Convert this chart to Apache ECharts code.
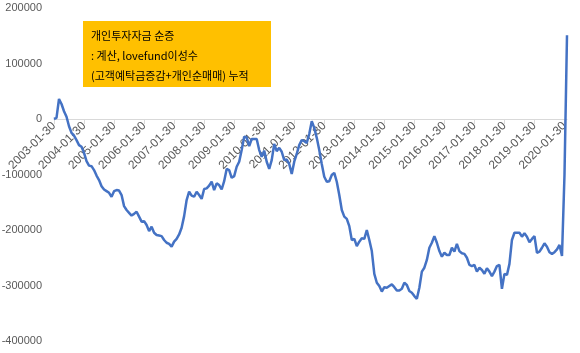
<!DOCTYPE html>
<html>
<head>
<meta charset="utf-8">
<script src="https://cdn.jsdelivr.net/npm/echarts@6/dist/echarts.min.js"></script>
<style>
  html, body { margin: 0; padding: 0; background: #fff; }
  #chart-container { width: 580px; height: 353px; }
</style>
</head>
<body>
<div id="chart-container"></div>
<script>
// monthly points, 2003-01 .. 2020-02
const firstYear = 2003;
const pointCount = 206;
const categories = [];
for (let i = 0; i < pointCount; i++) {
    const y = firstYear + Math.floor(i / 12);
    const m = String(i % 12 + 1).padStart(2, '0');
    categories.push(y + '-' + m + '-30');
}

// 개인투자자금 순증 (thousands)
const netFlowK = [
    0, 2, 36, 27, 14, 4, -13, -25, -30, -38, -47, -50,
    -61, -76, -84, -85, -92, -102, -110, -121, -127, -130, -133, -140,
    -130, -128, -129, -137, -157, -164, -169, -174, -171, -167, -176, -185,
    -184, -191, -202, -194, -205, -209, -210, -211, -218, -223, -225, -230,
    -221, -216, -208, -196, -175, -146, -131, -138, -140, -131, -137, -144,
    -126, -125, -120, -113, -128, -116, -119, -127, -112, -90, -92, -106,
    -103, -86, -77, -56, -32, -33, -49, -36, -36, -36, -56, -68,
    -57, -77, -90, -74, -45, -58, -52, -59, -74, -73, -81, -99,
    -77, -63, -47, -38, -40, -43, -27, -4, -16, -34, -56, -81,
    -104, -113, -112, -101, -97, -113, -137, -164, -176, -180, -193, -218,
    -216, -229, -221, -215, -216, -200, -218, -238, -279, -295, -301, -311,
    -303, -304, -301, -298, -303, -309, -309, -306, -295, -299, -310, -313,
    -319, -324, -304, -275, -268, -254, -232, -223, -211, -223, -238, -248,
    -241, -245, -245, -232, -239, -225, -238, -242, -243, -250, -263, -265,
    -263, -275, -268, -272, -279, -269, -275, -283, -275, -265, -263, -306,
    -279, -281, -261, -218, -205, -205, -205, -212, -206, -212, -222, -216,
    -211, -241, -239, -232, -224, -230, -240, -243, -240, -235, -227, -247,
    -100, 151
];
const netFlow = netFlowK.map(v => v * 1000);

const yTicks = { min: -400000, max: 200000, step: 100000 };
const noteLines = ['개인투자자금 순증', ': 계산, lovefund이성수', '(고객예탁금증감+개인순매매) 누적'];

var dom = document.getElementById('chart-container');
var myChart = echarts.init(dom, null, { renderer: 'canvas' });

var option = {
    animation: false,
    grid: { left: 54, right: 13, top: 8, bottom: 12, containLabel: false, outerBoundsMode: 'none' },
    xAxis: {
        type: 'category',
        data: categories,
        boundaryGap: false,
        position: 'bottom',
        // zero line sits 2/6 of the way from the top of the plot
        offset: -222,
        axisLine: { onZero: false, lineStyle: { color: '#d9d9d9', width: 1 } },
        axisTick: { interval: 11, length: 5, lineStyle: { color: '#d9d9d9' } },
        axisLabel: {
            interval: 11,
            rotate: 45,
            margin: 5,
            color: '#595959',
            fontSize: 12,
            fontFamily: 'Liberation Sans'
        },
        splitLine: { show: false }
    },
    yAxis: {
        type: 'value',
        min: yTicks.min,
        max: yTicks.max,
        interval: yTicks.step,
        axisLine: { show: false },
        axisTick: { show: false },
        splitLine: { show: false },
        axisLabel: {
            margin: 12,
            color: '#595959',
            fontSize: 11,
            fontFamily: 'Liberation Sans',
            formatter: v => String(v)
        }
    },
    series: [
        {
            type: 'line',
            data: netFlow,
            showSymbol: false,
            symbol: 'none',
            lineStyle: { color: '#4472C4', width: 2.5 }
        }
    ],
    graphic: [
        {
            type: 'rect',
            left: 83,
            top: 21,
            shape: { width: 188, height: 66 },
            style: { fill: '#FFC000' },
            z: 10
        },
        {
            type: 'text',
            left: 91,
            top: 26,
            style: {
                text: noteLines.join('\n'),
                fill: '#000',
                fontSize: 11,
                lineHeight: 20,
                fontFamily: 'Noto Sans CJK KR'
            },
            z: 11
        }
    ]
};

myChart.setOption(option);
window.addEventListener('resize', myChart.resize);
</script>
</body>
</html>
